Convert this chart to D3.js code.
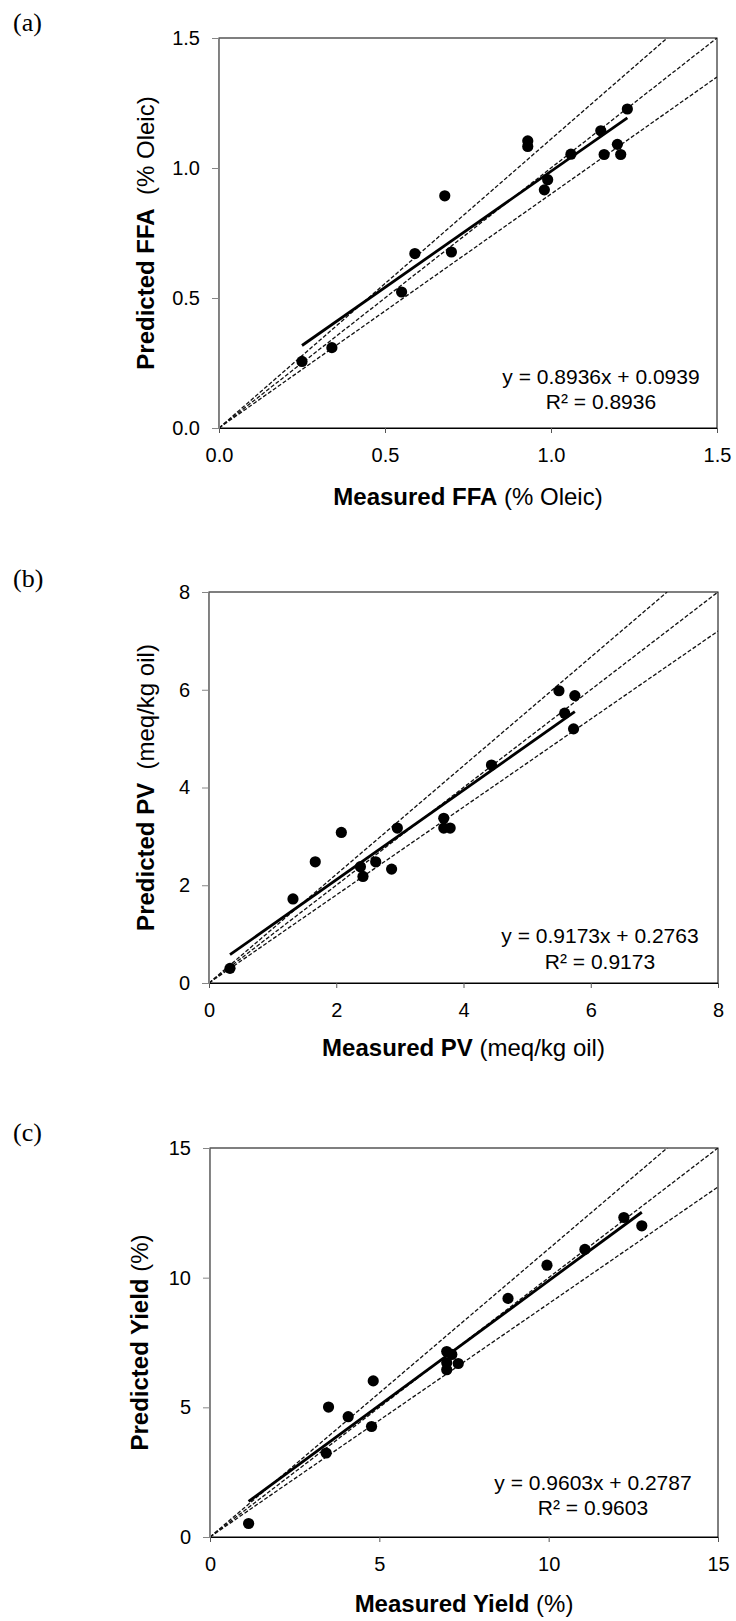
<!DOCTYPE html>
<html>
<head>
<meta charset="utf-8">
<script src="https://cdn.jsdelivr.net/npm/d3@7"></script>
<style>
  body { margin: 0; background: #fff; }
  text { font-family: "Liberation Sans", Arial, sans-serif; fill: #000; }
</style>
</head>
<body>
<svg id="chart" width="736" height="1621"></svg>
<script>
// (a) free fatty acids, % oleic
var ffaMeasured  = [0.25, 0.34, 0.55, 0.59, 0.68, 0.70, 0.93, 0.93, 0.98, 0.99, 1.06, 1.15, 1.16, 1.20, 1.21, 1.23];
var ffaPredicted = [0.256, 0.309, 0.523, 0.671, 0.893, 0.677, 1.104, 1.083, 0.916, 0.955, 1.053, 1.143, 1.052, 1.091, 1.052, 1.227];
var ffaTicks = [0, 0.5, 1.0, 1.5];
var ffaFit = [0.8936, 0.0939];
var ffaR2 = 0.8936;

// (b) peroxide value, meq/kg oil
var pvMeasured  = [0.33, 1.32, 1.67, 2.08, 2.38, 2.42, 2.62, 2.87, 2.96, 3.69, 3.69, 3.79, 4.44, 5.50, 5.59, 5.75, 5.73];
var pvPredicted = [0.30, 1.72, 2.48, 3.08, 2.38, 2.18, 2.48, 2.33, 3.17, 3.37, 3.17, 3.17, 4.46, 5.98, 5.52, 5.88, 5.20];
var pvTicks = [0, 2, 4, 6, 8];
var pvFit = [0.9173, 0.2763];
var pvR2 = 0.9173;

// (c) yield, %
var yieldMeasured  = [1.14, 3.43, 3.50, 4.08, 4.77, 4.82, 6.99, 7.14, 6.99, 6.99, 7.33, 8.80, 9.95, 11.07, 12.22, 12.75];
var yieldPredicted = [0.52, 3.24, 5.01, 4.64, 4.26, 6.02, 7.15, 7.04, 6.72, 6.45, 6.69, 9.20, 10.48, 11.09, 12.32, 12.00];
var yieldTicks = [0, 5, 10, 15];
var yieldFit = [0.9603, 0.2787];
var yieldR2 = 0.9603;

// +/-10 % bands around the 1:1 line
var bandSlopes = [1 / 0.9, 1, 0.9];

var panels = [
  { tag: '(a)', xs: ffaMeasured, ys: ffaPredicted, ticks: ffaTicks, fmt: '.1f',
    fit: ffaFit, r2: ffaR2, name: 'FFA', unit: '(% Oleic)', gap: '  ',
    left: 219, right: 717, top: 38, bottom: 428,
    tagY: 31, xTitleY: 497, yTitleX: 146, eqX: 601, eqY: [377, 402] },
  { tag: '(b)', xs: pvMeasured, ys: pvPredicted, ticks: pvTicks, fmt: 'd',
    fit: pvFit, r2: pvR2, name: 'PV', unit: '(meq/kg oil)', gap: '  ',
    left: 209, right: 718, top: 592, bottom: 983,
    tagY: 587, xTitleY: 1048, yTitleX: 146, eqX: 600, eqY: [936, 962] },
  { tag: '(c)', xs: yieldMeasured, ys: yieldPredicted, ticks: yieldTicks, fmt: 'd',
    fit: yieldFit, r2: yieldR2, name: 'Yield', unit: '(%)', gap: ' ',
    left: 210, right: 718, top: 1148, bottom: 1537,
    tagY: 1141, xTitleY: 1604, yTitleX: 140, eqX: 593, eqY: [1483, 1508] }
];

var svg = d3.select('#chart');
var f4 = d3.format('.4f');

panels.forEach(function(p, i) {
  var max = d3.max(p.ticks);
  var x = d3.scaleLinear().domain([0, max]).range([p.left, p.right]);
  var y = d3.scaleLinear().domain([0, max]).range([p.bottom, p.top]);
  var g = svg.append('g');

  g.append('clipPath').attr('id', 'clip' + i)
    .append('rect')
    .attr('x', p.left).attr('y', p.top)
    .attr('width', p.right - p.left).attr('height', p.bottom - p.top);

  // frame
  g.append('rect')
    .attr('x', p.left).attr('y', p.top)
    .attr('width', p.right - p.left).attr('height', p.bottom - p.top)
    .attr('fill', 'none').attr('stroke', '#000').attr('stroke-width', 1);

  var line = d3.line().x(function(d) { return x(d[0]); }).y(function(d) { return y(d[1]); });
  var inner = g.append('g').attr('clip-path', 'url(#clip' + i + ')');

  // dashed bands from the origin
  bandSlopes.forEach(function(k) {
    var xEnd = Math.min(max, max / k);
    inner.append('path')
      .attr('d', line([[0, 0], [xEnd, k * xEnd]]))
      .attr('fill', 'none').attr('stroke', '#111')
      .attr('stroke-width', 1.3).attr('stroke-dasharray', '4,2');
  });

  // fitted line over the data range
  var ext = d3.extent(p.xs);
  inner.append('path')
    .attr('d', line(ext.map(function(v) { return [v, p.fit[0] * v + p.fit[1]]; })))
    .attr('fill', 'none').attr('stroke', '#000').attr('stroke-width', 2.8);

  inner.selectAll('circle').data(p.xs).enter().append('circle')
    .attr('cx', function(d) { return x(d); })
    .attr('cy', function(d, j) { return y(p.ys[j]); })
    .attr('r', 5.6).attr('fill', '#000');

  // axes
  var fmt = d3.format(p.fmt);
  var ax = g.append('g').attr('transform', 'translate(0,' + p.bottom + ')')
    .call(d3.axisBottom(x).tickValues(p.ticks).tickFormat(fmt)
      .tickSize(5).tickSizeOuter(0).tickPadding(15));
  ax.select('.domain').attr('stroke', '#000');
  ax.selectAll('.tick line').attr('stroke', '#555');

  var ay = g.append('g').attr('transform', 'translate(' + p.left + ',0)')
    .call(d3.axisLeft(y).tickValues(p.ticks).tickFormat(fmt)
      .tickSize(7).tickSizeOuter(0).tickPadding(12));
  ay.select('.domain').attr('stroke', '#868686');
  ay.selectAll('.tick line').attr('stroke', '#868686');

  g.selectAll('.tick text')
    .style('font-family', '"Liberation Sans", Arial, sans-serif')
    .style('font-size', '20px').attr('fill', '#000');

  // panel tag
  g.append('text').attr('x', 13).attr('y', p.tagY)
    .style('font-family', '"Liberation Serif", "Times New Roman", serif')
    .style('font-size', '26px').text(p.tag);

  // axis titles
  var xt = g.append('text')
    .attr('x', (p.left + p.right) / 2).attr('y', p.xTitleY)
    .attr('text-anchor', 'middle').attr('dy', '0.35em')
    .style('font-size', '24px');
  xt.append('tspan').style('font-weight', 'bold').text('Measured ' + p.name);
  xt.append('tspan').text(' ' + p.unit);

  var yt = g.append('text')
    .attr('transform', 'translate(' + p.yTitleX + ',' + (p.top + p.bottom) / 2 + ') rotate(-90)')
    .attr('text-anchor', 'middle').attr('dy', '0.35em')
    .attr('xml:space', 'preserve')
    .style('font-size', '24px');
  yt.append('tspan').style('font-weight', 'bold').text('Predicted ' + p.name);
  yt.append('tspan').text(p.gap + p.unit);

  // equation
  var eq = g.append('g').attr('text-anchor', 'middle').style('font-size', '21px');
  eq.append('text').attr('x', p.eqX).attr('y', p.eqY[0]).attr('dy', '0.35em')
    .text('y = ' + f4(p.fit[0]) + 'x + ' + f4(p.fit[1]));
  eq.append('text').attr('x', p.eqX).attr('y', p.eqY[1]).attr('dy', '0.35em')
    .text('R\u00B2 = ' + f4(p.r2));
});
</script>
</body>
</html>
